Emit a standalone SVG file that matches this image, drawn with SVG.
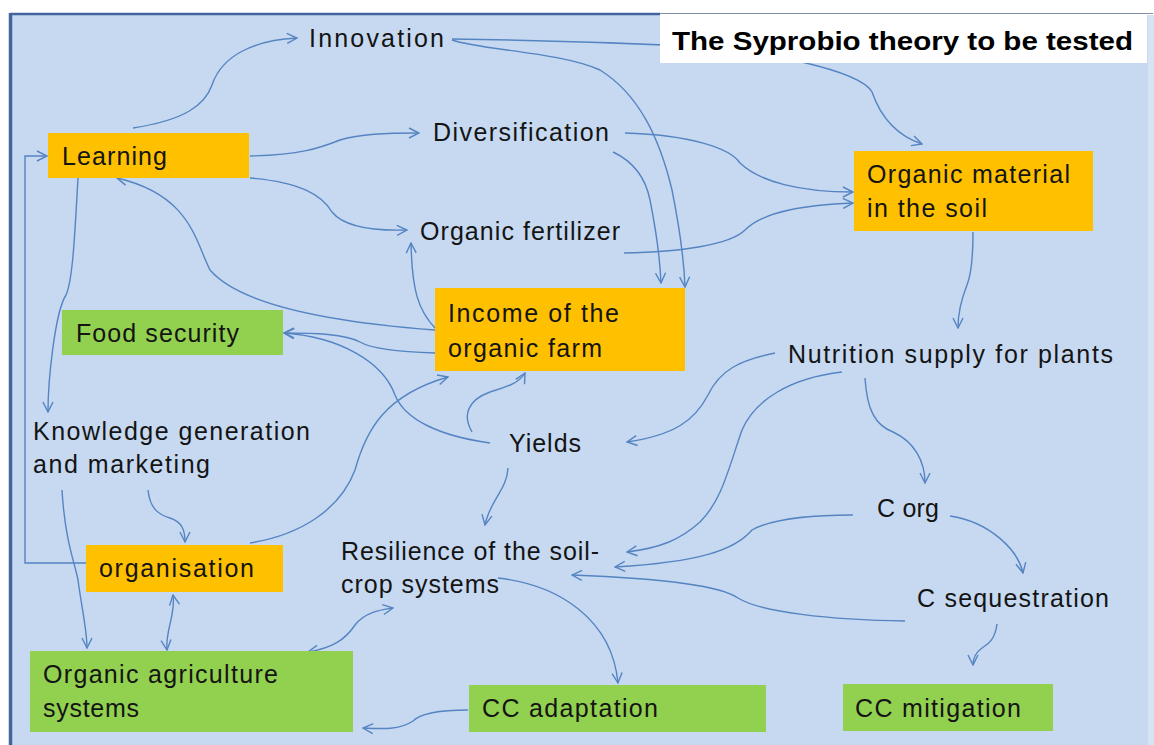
<svg xmlns="http://www.w3.org/2000/svg" width="1154" height="745" viewBox="0 0 1154 745">
<defs>
<style>
.t{font-family:"Liberation Sans",Arial,sans-serif;font-size:25px;fill:#141414}
.ttl{font-family:"Liberation Sans",Arial,sans-serif;font-size:26px;font-weight:bold;fill:#000}
.or{fill:#ffc000}
.gr{fill:#92d050}
.c{fill:none;stroke:#5584c2;stroke-width:1.4}
.a{marker-end:url(#ah)}
.b{marker-start:url(#ah);marker-end:url(#ah)}
</style>
<marker id="ah" viewBox="0 0 12 12" refX="11" refY="6" markerWidth="12" markerHeight="12" markerUnits="userSpaceOnUse" orient="auto-start-reverse">
<path d="M1,1 L11,6 L1,11" fill="none" stroke="#5584c2" stroke-width="1.4"/>
</marker>
</defs>
<rect x="0" y="0" width="1154" height="745" fill="#ffffff"/>
<rect x="10" y="15" width="1138" height="730" fill="#c6d9f1"/>
<rect x="1148" y="15" width="6" height="730" fill="#d6e3f4"/>
<line x1="10" y1="14" x2="660" y2="14" stroke="#45639c" stroke-width="2.5"/>
<line x1="660" y1="13.5" x2="1153" y2="13.5" stroke="#7f8fa8" stroke-width="1"/>
<line x1="10.5" y1="13" x2="10.5" y2="745" stroke="#45639c" stroke-width="3.5"/>

<g id="connectors">
<path class="c a" d="M133,128 C185,120 205,105 212,85 C222,55 255,40 297,38"/>
<path class="c a" d="M452,39 C520,40 600,42 690,46 C760,50 860,70 872,92 C880,115 895,135 922,144"/>
<path class="c a" d="M452,40 C480,50 560,52 600,70 C640,95 660,140 672,190 C680,230 684,260 685,287"/>
<path class="c a" d="M613,152 C630,160 645,175 650,200 C656,230 660,260 661,283"/>
<path class="c a" d="M250,156 C300,155 320,148 340,140 C360,134 385,133 419,133"/>
<path class="c a" d="M250,178 C300,182 322,195 332,212 C345,228 375,231 407,230"/>
<path class="c a" d="M625,133 C690,135 730,148 740,163 C760,182 800,192 853,192"/>
<path class="c a" d="M624,253 C680,252 730,245 745,230 C765,210 810,205 853,203"/>
<path class="c a" d="M435,328 C418,310 412,290 411,243"/>
<path class="c a" d="M435,330 C330,322 240,305 210,270 C195,240 190,195 117,178"/>
<path class="c a" d="M435,353 C400,352 372,349 360,342 C345,334 315,333 284,333"/>
<path class="c a" d="M490,443 C440,436 405,420 395,395 C383,362 340,337 284,333"/>
<path class="c a" d="M472,432 C462,415 468,400 490,392 C510,386 520,382 525,373"/>
<path class="c a" d="M250,543 C300,535 340,510 355,470 C366,430 385,395 448,377"/>
<path class="c a" d="M775,353 C740,360 720,370 708,395 C695,420 675,435 627,442"/>
<path class="c a" d="M842,372 C790,378 755,400 742,430 C728,470 722,500 700,522 C680,540 660,548 627,552"/>
<path class="c a" d="M865,378 C867,410 875,425 893,432 C915,442 925,462 925,483"/>
<path class="c a" d="M853,515 C800,515 770,520 752,530 C735,550 700,562 615,567"/>
<path class="c a" d="M905,621 C830,620 760,612 738,598 C720,585 650,578 572,575"/>
<path class="c a" d="M950,516 C990,522 1018,550 1023,573"/>
<path class="c a" d="M997,624 C995,640 988,644 982,648 C975,653 973,660 973,665"/>
<path class="c a" d="M973,232 C973,260 971,275 967,285 C961,300 958,315 958,328"/>
<path class="c a" d="M508,468 C507,490 490,500 485,525"/>
<path class="c a" d="M498,578 C560,585 612,620 618,683"/>
<path class="c a" d="M468,710 C440,710 420,714 413,721 C400,730 382,729 363,728"/>
<path class="c b" d="M308,652 C332,648 345,640 355,625 C365,612 380,610 393,608"/>
<path class="c b" d="M173,595 C176,615 165,630 167,650"/>
<path class="c a" d="M148,490 C150,510 160,515 170,518 C182,522 185,530 185,542"/>
<path class="c a" d="M62,490 C65,540 74,560 78,580 C82,610 87,630 87,648"/>
<path class="c a" d="M78,178 C75,230 73,280 66,295 C55,312 48,380 48,412"/>
<path class="c a" d="M86,563 L25,563 L25,156 L47,156"/>
</g>

<g id="title">
<rect x="660" y="15" width="487" height="48" fill="#ffffff"/>
<text class="ttl" x="672" y="50" textLength="461" lengthAdjust="spacingAndGlyphs">The Syprobio theory to be tested</text>
</g>

<g id="learning"><rect class="or" x="48" y="133" width="201" height="45"/><text class="t" x="62" y="165" textLength="105">Learning</text></g>
<g id="innovation"><text class="t" x="309" y="47" textLength="135">Innovation</text></g>
<g id="diversification"><text class="t" x="433" y="141" textLength="176">Diversification</text></g>
<g id="organic-fertilizer"><text class="t" x="420" y="240" textLength="200">Organic fertilizer</text></g>
<g id="organic-material"><rect class="or" x="854" y="151" width="239" height="80"/><text class="t" x="867" y="183" textLength="203">Organic material</text><text class="t" x="867" y="217" textLength="120">in the soil</text></g>
<g id="income"><rect class="or" x="435" y="288" width="250" height="83"/><text class="t" x="448" y="322" textLength="171">Income of the</text><text class="t" x="448" y="357" textLength="154">organic farm</text></g>
<g id="food-security"><rect class="gr" x="62" y="310" width="221" height="45"/><text class="t" x="76" y="342" textLength="163">Food security</text></g>
<g id="nutrition"><text class="t" x="788" y="363" textLength="325">Nutrition supply for plants</text></g>
<g id="knowledge"><text class="t" x="33" y="440" textLength="277">Knowledge generation</text><text class="t" x="33" y="473" textLength="177">and marketing</text></g>
<g id="yields"><text class="t" x="509" y="452" textLength="72">Yields</text></g>
<g id="c-org"><text class="t" x="877" y="517" textLength="62">C org</text></g>
<g id="resilience"><text class="t" x="341" y="560" textLength="258">Resilience of the soil-</text><text class="t" x="341" y="593" textLength="158">crop systems</text></g>
<g id="organisation"><rect class="or" x="86" y="545" width="197" height="47"/><text class="t" x="99" y="577" textLength="155">organisation</text></g>
<g id="c-sequestration"><text class="t" x="917" y="607" textLength="192">C sequestration</text></g>
<g id="organic-agriculture"><rect class="gr" x="30" y="651" width="323" height="81"/><text class="t" x="43" y="683" textLength="235">Organic agriculture</text><text class="t" x="43" y="717" textLength="96">systems</text></g>
<g id="cc-adaptation"><rect class="gr" x="469" y="685" width="297" height="47"/><text class="t" x="482" y="717" textLength="176">CC adaptation</text></g>
<g id="cc-mitigation"><rect class="gr" x="843" y="684" width="210" height="47"/><text class="t" x="855" y="717" textLength="166">CC mitigation</text></g>
</svg>
